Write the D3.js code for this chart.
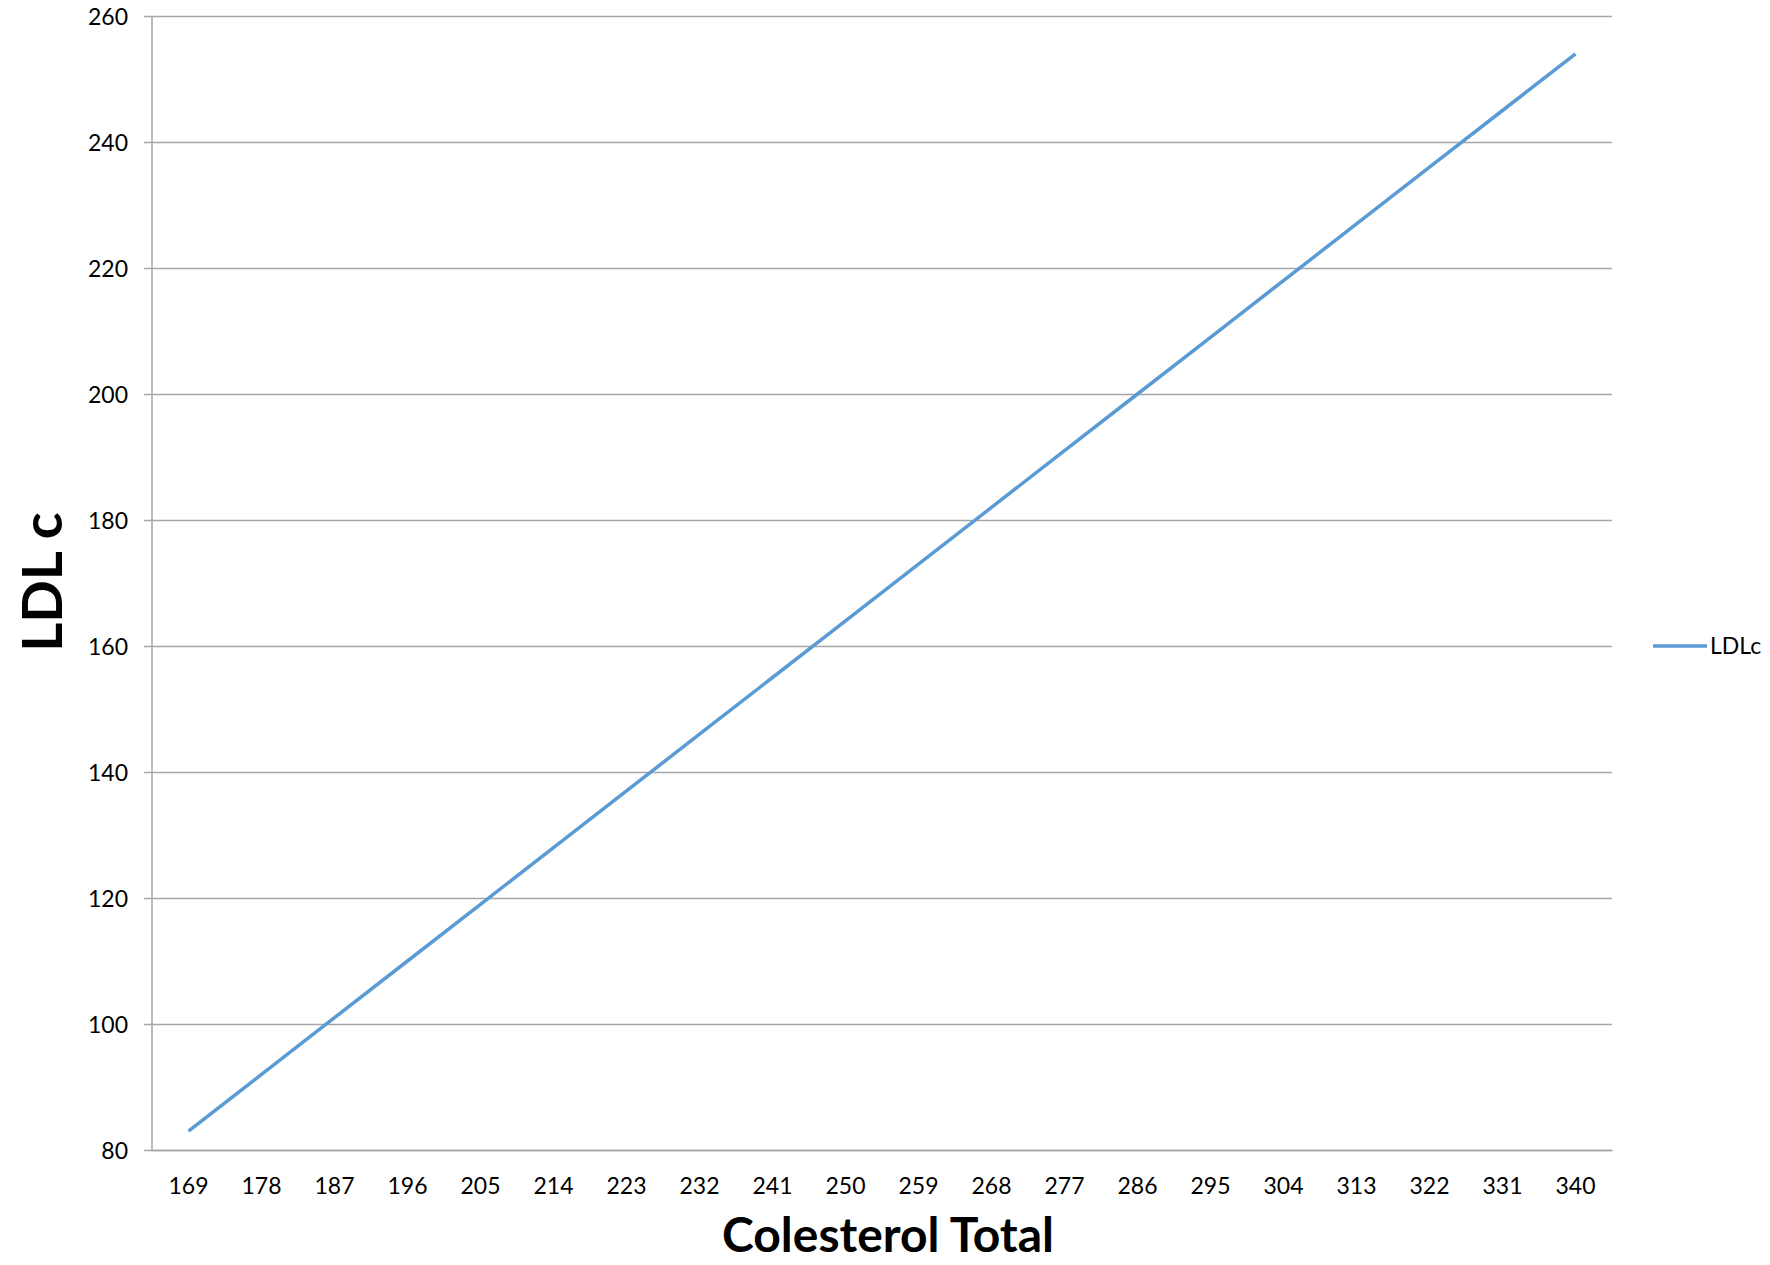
<!DOCTYPE html>
<html>
<head>
<meta charset="utf-8">
<script src="https://d3js.org/d3.v7.min.js"></script>
<style>
  html, body { margin: 0; padding: 0; background: #fff; }
  svg { display: block; }
  text { font-family: Lato, "Open Sans", sans-serif; fill: #000; }
</style>
</head>
<body>
<script>
// Total cholesterol categories (x axis)
const colesterolTotal = [169, 178, 187, 196, 205, 214, 223, 232, 241, 250,
                         259, 268, 277, 286, 295, 304, 313, 322, 331, 340];
// LDL cholesterol for each category
const ldlc = [83, 92, 101, 110, 119, 128, 137, 146, 155, 164,
              173, 182, 191, 200, 209, 218, 227, 236, 245, 254];
// Y axis ticks
const yTicks = [80, 100, 120, 140, 160, 180, 200, 220, 240, 260];
const seriesName = "LDLc";
const xTitle = "Colesterol Total";
const yTitle = "LDL c";

const W = 1770, H = 1265;
const margin = { left: 152, top: 16, right: 158, bottom: 115 };
const iw = W - margin.left - margin.right;
const ih = H - margin.top - margin.bottom;

const gridColor = "#a6a6a6";
const lineColor = "#5b9bd5";

const svg = d3.select("body").append("svg")
  .attr("width", W).attr("height", H);

const g = svg.append("g")
  .attr("transform", `translate(${margin.left},${margin.top})`);

const x = d3.scaleBand().domain(colesterolTotal).range([0, iw]).padding(0);
const y = d3.scaleLinear().domain([80, 260]).range([ih, 0]);

// Horizontal gridlines with outer tick marks
const yAxis = d3.axisLeft(y).tickValues(yTicks).tickSize(8).tickPadding(16);
const yg = g.append("g").call(yAxis);
yg.select(".domain").remove();
yg.selectAll(".tick line").attr("stroke", gridColor).attr("stroke-width", 1.5);
yg.selectAll(".tick").append("line")
  .attr("x1", 0).attr("x2", iw)
  .attr("stroke", gridColor).attr("stroke-width", 1.5);
yg.selectAll(".tick text").style("font-size", "23px").attr("dy", "0.35em");

// Vertical axis line
g.append("line")
  .attr("x1", 0).attr("x2", 0).attr("y1", 0).attr("y2", ih)
  .attr("stroke", gridColor).attr("stroke-width", 1.5);

// Category axis
const xAxis = d3.axisBottom(x).tickSize(0).tickPadding(28);
const xg = g.append("g").attr("transform", `translate(0,${ih})`).call(xAxis);
xg.select(".domain").attr("stroke", gridColor).attr("stroke-width", 1.5);
xg.selectAll(".tick text").style("font-size", "23px");

// Series line
const line = d3.line()
  .x((d, i) => x(colesterolTotal[i]) + x.bandwidth() / 2)
  .y(d => y(d));

g.append("path")
  .datum(ldlc)
  .attr("fill", "none")
  .attr("stroke", lineColor)
  .attr("stroke-width", 3.5)
  .attr("d", line);

// Axis titles
svg.append("text")
  .attr("x", margin.left + iw / 2 + 6)
  .attr("y", 1252)
  .attr("text-anchor", "middle")
  .style("font-size", "48px")
  .style("font-weight", "bold")
  .text(xTitle);

svg.append("text")
  .attr("transform", `translate(62,${582}) rotate(-90)`)
  .attr("text-anchor", "middle")
  .style("font-size", "56px")
  .style("font-weight", "bold")
  .text(yTitle);

// Legend
const legend = svg.append("g")
  .attr("transform", `translate(1653,${margin.top + y(160)})`);
legend.append("line")
  .attr("x1", 0).attr("x2", 54)
  .attr("stroke", lineColor).attr("stroke-width", 3.5);
legend.append("text")
  .attr("x", 57).attr("dy", "0.35em")
  .style("font-size", "23px")
  .text(seriesName);
</script>
</body>
</html>
